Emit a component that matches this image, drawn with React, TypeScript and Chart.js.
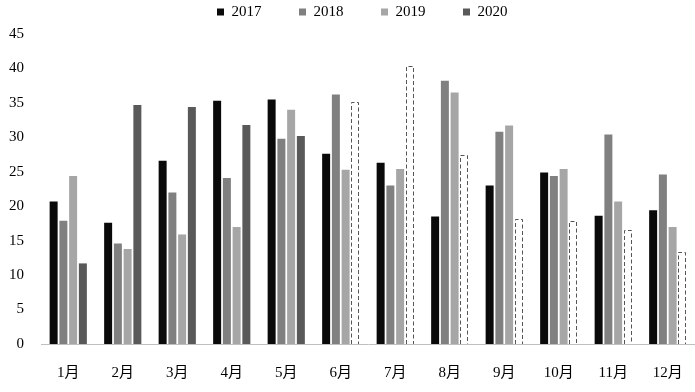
import React, { useEffect, useRef } from "react";
import { Chart, registerables } from "chart.js";

Chart.register(...registerables);

const months = ["1月", "2月", "3月", "4月", "5月", "6月", "7月", "8月", "9月", "10月", "11月", "12月"];
const seriesNames = ["2017", "2018", "2019", "2020"];
const values2017 = [20.7, 17.6, 26.6, 35.3, 35.5, 27.6, 26.3, 18.5, 23.0, 24.9, 18.6, 19.4];
const values2018 = [17.9, 14.6, 22.0, 24.1, 29.8, 36.2, 23.0, 38.2, 30.8, 24.4, 30.4, 24.6];
const values2019 = [24.4, 13.8, 15.9, 17.0, 34.0, 25.3, 25.4, 36.5, 31.7, 25.4, 20.7, 17.0];
const values2020 = [11.7, 34.7, 34.4, 31.8, 30.2, 35.2, 40.4, 27.5, 18.2, 17.9, 16.6, 13.3];
// months of 2020 drawn as dashed (forecast) outlines
const forecast2020 = [false, false, false, false, false, true, true, true, true, true, true, true];
const yTicks = [0, 5, 10, 15, 20, 25, 30, 35, 40, 45];

const colors = ["#0a0a0a", "#808080", "#a6a6a6", "#595959"];
const FONT = "'Liberation Serif', 'Noto Sans CJK SC', serif";

const dashedPlugin = {
  id: "dashedForecast",
  afterDatasetsDraw(chart: any) {
    const meta = chart.getDatasetMeta(3);
    if (!meta || meta.hidden) return;
    const ctx = chart.ctx;
    ctx.save();
    ctx.strokeStyle = "#555555";
    ctx.lineWidth = 1;
    ctx.setLineDash([4, 2.5]);
    meta.data.forEach((bar: any, i: number) => {
      if (!forecast2020[i]) return;
      const { x, y, base, width } = bar.getProps(["x", "y", "base", "width"], true);
      const left = Math.round(x - width / 2) + 0.5;
      const right = Math.round(x + width / 2) - 0.5;
      const top = Math.round(y) + 0.5;
      const bottom = Math.round(base);
      ctx.beginPath();
      ctx.moveTo(left, bottom);
      ctx.lineTo(left, top);
      ctx.lineTo(right, top);
      ctx.lineTo(right, bottom);
      ctx.stroke();
    });
    ctx.restore();
  },
};

export default function App() {
  const canvasRef = useRef<HTMLCanvasElement | null>(null);

  useEffect(() => {
    if (!canvasRef.current) return;
    const seriesValues = [values2017, values2018, values2019, values2020];
    const chart = new Chart(canvasRef.current, {
      type: "bar",
      data: {
        labels: months,
        datasets: seriesNames.map((name, si) => ({
          label: name,
          data: seriesValues[si],
          backgroundColor:
            si === 3
              ? months.map((_, i) => (forecast2020[i] ? "rgba(255,255,255,0)" : colors[3]))
              : colors[si],
          borderWidth: 0,
          categoryPercentage: 0.715,
          barPercentage: 0.82,
        })),
      },
      options: {
        animation: false,
        responsive: false,
        maintainAspectRatio: false,
        layout: { padding: { left: 29.5, right: 0, top: -33, bottom: 0 } },
        plugins: {
          tooltip: { enabled: false },
          title: {
            display: true,
            text: "",
            weight: 500,
            padding: { top: 4.5, bottom: 0 },
            font: { size: 1, lineHeight: 0 },
          },
          legend: {
            position: "top",
            labels: {
              boxWidth: 7,
              boxHeight: 7,
              padding: 37.5,
              color: "#000",
              font: { family: FONT, size: 15 },
              generateLabels: () =>
                seriesNames.map((name, i) => ({
                  text: name,
                  fillStyle: colors[i],
                  strokeStyle: colors[i],
                  lineWidth: 0,
                  hidden: false,
                  datasetIndex: i,
                  fontColor: "#000",
                })),
            },
          },
        },
        scales: {
          x: {
            grid: { display: false },
            border: { display: true, color: "#c0c0c0", width: 1 },
            ticks: {
              color: "#000",
              font: { family: FONT, size: 15 },
              padding: 12,
              maxRotation: 0,
              autoSkip: false,
            },
            afterFit: (scale: any) => {
              scale.height = 48;
            },
          },
          y: {
            min: 0,
            max: 45,
            grid: { display: false },
            border: { display: false },
            afterBuildTicks: (scale: any) => {
              scale.ticks = yTicks.map((v) => ({ value: v }));
            },
            ticks: {
              color: "#000",
              font: { family: FONT, size: 15 },
              mirror: true,
              crossAlign: "far",
              padding: -32,
            },
            afterFit: (scale: any) => {
              scale.width = 11.5;
            },
          },
        },
      },
      plugins: [dashedPlugin],
    } as any);
    return () => chart.destroy();
  }, []);

  return (
    <div style={{ position: "absolute", left: 0, top: 0, width: 695, height: 392, background: "#fff" }}>
      <canvas ref={canvasRef} width={695} height={392} style={{ display: "block", width: 695, height: 392 }} />
    </div>
  );
}
